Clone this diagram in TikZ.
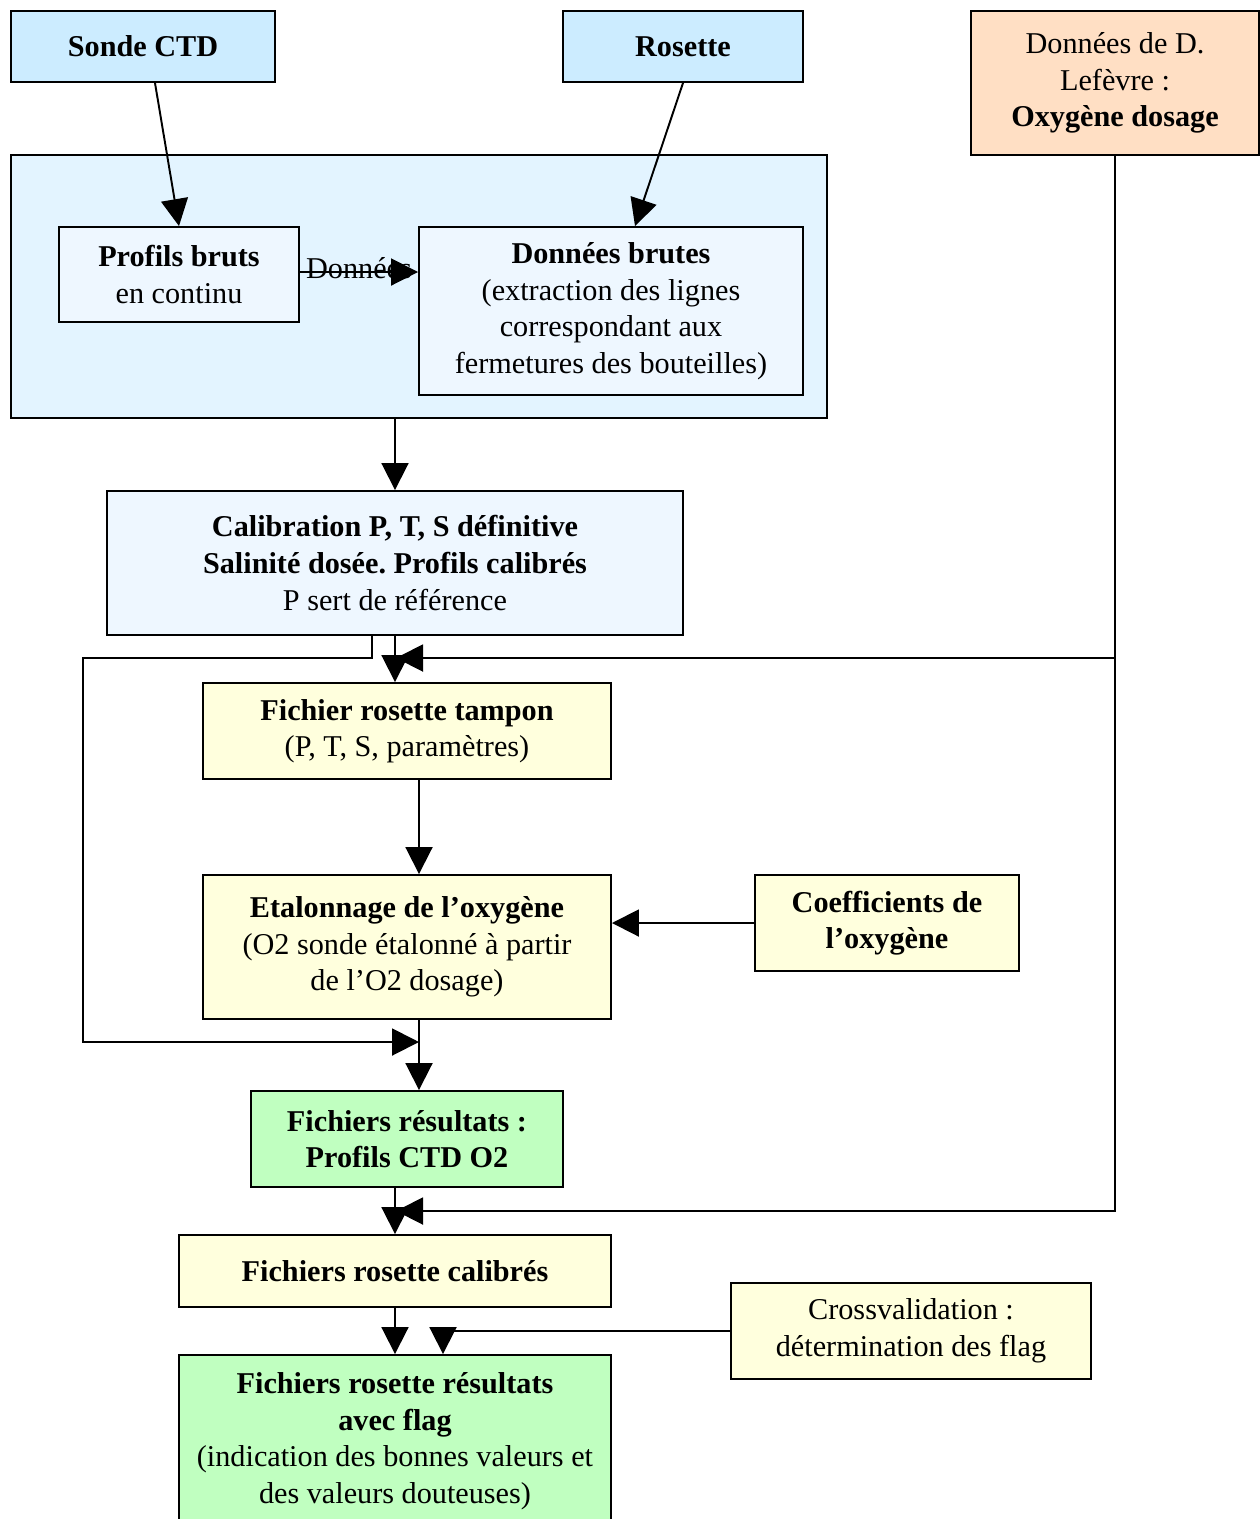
\documentclass[tikz,border=0pt]{standalone}
\usepackage{fontspec}
\setmainfont{Liberation Serif}
\usetikzlibrary{arrows.meta}
\frenchspacing

\definecolor{ctdblue}{RGB}{204,236,255}
\definecolor{acqblue}{RGB}{227,244,255}
\definecolor{paleblue}{RGB}{238,247,255}
\definecolor{paleyellow}{RGB}{255,255,221}
\definecolor{palegreen}{RGB}{192,255,192}
\definecolor{peach}{RGB}{255,223,196}

\begin{document}
\begin{tikzpicture}[
  box/.style={rectangle, draw, line width=1.1pt, align=center, inner sep=2pt, font=\fontsize{17.2}{20.8}\selectfont},
  arr/.style={-{Triangle[length=5.4mm, width=5.4mm]}, line width=1.1pt}
]
  \useasboundingbox (0,0) rectangle (25.2,-30.38);
  % Container
  \node (acq) [box, fill=acqblue, minimum width=16.32cm, minimum height=5.26cm] at (8.38,-5.73) {};
  % Nodes
  \node (ctd) [box, fill=ctdblue, minimum width=5.28cm, minimum height=1.42cm] at (2.86,-0.93) {\textbf{Sonde CTD}};
  \node (rosette) [box, fill=ctdblue, minimum width=4.8cm, minimum height=1.42cm] at (13.66,-0.93) {\textbf{Rosette}};
  \node (lefevre) [box, fill=peach, minimum width=5.76cm, minimum height=2.88cm] at (22.30,-1.66) {Données de D.\\Lefèvre :\\\textbf{Oxygène dosage}};
  \node (profils) [box, fill=paleblue, minimum width=4.8cm, minimum height=1.9cm] at (3.58,-5.49) {\textbf{Profils bruts}\\en continu};
  \node (brutes) [box, fill=paleblue, minimum width=7.68cm, minimum height=3.36cm] at (12.22,-6.22) {\textbf{Données brutes}\\(extraction des lignes\\correspondant aux\\fermetures des bouteilles)};
  \node (calib) [box, fill=paleblue, minimum width=11.52cm, minimum height=2.88cm] at (7.90,-11.26) {\textbf{Calibration P, T, S définitive}\\\textbf{Salinité dosée. Profils calibrés}\\P sert de référence};
  \node (tampon) [box, fill=paleyellow, minimum width=8.16cm, minimum height=1.92cm] at (8.14,-14.62) {\textbf{Fichier rosette tampon}\\(P, T, S, paramètres)};
  \node (etal) [box, fill=paleyellow, minimum width=8.16cm, minimum height=2.88cm] at (8.14,-18.94) {\textbf{Etalonnage de l’oxygène}\\(O2 sonde étalonné à partir\\de l’O2 dosage)};
  \node (coef) [box, fill=paleyellow, minimum width=5.28cm, minimum height=1.92cm] at (17.74,-18.46) {\textbf{Coefficients de}\\\textbf{l’oxygène}};
  \node (res) [box, fill=palegreen, minimum width=6.24cm, minimum height=1.92cm] at (8.14,-22.78) {\textbf{Fichiers résultats :}\\\textbf{Profils CTD O2}};
  \node (calibres) [box, fill=paleyellow, minimum width=8.64cm, minimum height=1.44cm] at (7.90,-25.42) {\textbf{Fichiers rosette calibrés}};
  \node (cross) [box, fill=paleyellow, minimum width=7.2cm, minimum height=1.92cm] at (18.22,-26.62) {Crossvalidation :\\détermination des flag};
  \node (flag) [box, fill=palegreen, minimum width=8.64cm, minimum height=3.44cm] at (7.90,-28.82) {\textbf{Fichiers rosette résultats}\\\textbf{avec flag}\\(indication des bonnes valeurs et\\des valeurs douteuses)};
  % Merge points
  \coordinate (oxA) at (7.92,-13.16);
  \coordinate (oxB) at (7.92,-24.22);
  \coordinate (merge) at (8.38,-20.84);
  % Arrows
  \draw[arr] ([xshift=0.24cm]ctd.south) -- (profils.north);
  \draw[arr] (rosette.south) -- ([xshift=0.48cm]brutes.north);
  \draw[arr] ([yshift=0.05cm]profils.east) -- ([yshift=0.05cm]profils.east -| brutes.west) node[midway, inner sep=0pt, yshift=0.08cm, font=\fontsize{17.2}{20.8}\selectfont] {Données};
  \draw[arr] (calib.north |- acq.south) -- (calib.north);
  \draw[arr] (calib.south) -- (calib.south |- tampon.north);
  \draw[arr] ([xshift=-0.46cm]calib.south) |- (1.66,-13.16) |- (merge);
  \draw[arr] (lefevre.south) |- (oxB);
  \draw[arr] (lefevre.south |- oxA) -- (oxA);
  \draw[arr] ([xshift=0.24cm]tampon.south) -- ([xshift=0.24cm]etal.north);
  \draw[arr] (coef.west) -- (coef.west -| etal.east);
  \draw[arr] ([xshift=0.24cm]etal.south) -- ([xshift=0.24cm]res.north);
  \draw[arr] ([xshift=-0.24cm]res.south) -- (calibres.north);
  \draw[arr] (calibres.south) -- (flag.north);
  \draw[arr] (cross.west) -| ([xshift=0.96cm]flag.north);
\end{tikzpicture}
\end{document}
